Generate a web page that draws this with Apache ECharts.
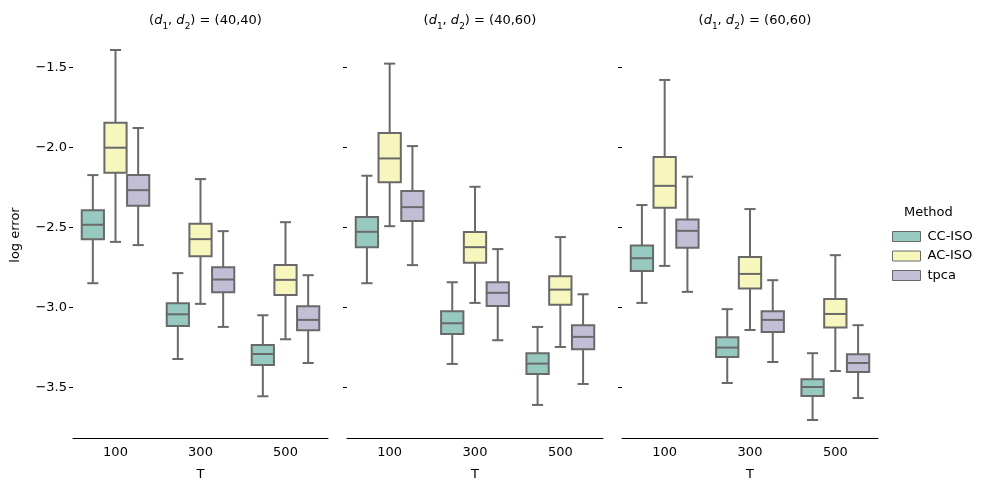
<!DOCTYPE html>
<html>
<head>
<meta charset="utf-8">
<script src="https://cdn.jsdelivr.net/npm/echarts@6.0.0/dist/echarts.min.js"></script>
<style>
  html, body { margin: 0; padding: 0; background: #fff; }
  #chart { width: 987px; height: 492px; }
</style>
</head>
<body>
<div id="chart"></div>
<script>
// Faceted boxplots: log error by T, one panel per (d1,d2), hue = method.
const categories = ['100', '300', '500']
const methods = ['CC-ISO', 'AC-ISO', 'tpca']
const panels = ['(40,40)', '(40,60)', '(60,60)']
const yTicks = [-3.5, -3.0, -2.5, -2.0, -1.5]

// each row: [low whisker, q1, median, q3, high whisker] for T = 100, 300, 500
const cc4040 = [[-2.848, -2.573, -2.483, -2.392, -2.173], [-3.321, -3.115, -3.042, -2.973, -2.785], [-3.554, -3.358, -3.290, -3.233, -3.048]]
const ac4040 = [[-2.590, -2.158, -2.002, -1.846, -1.392], [-2.977, -2.679, -2.573, -2.477, -2.198], [-3.198, -2.921, -2.827, -2.735, -2.467]]
const tp4040 = [[-2.610, -2.365, -2.267, -2.173, -1.879], [-3.121, -2.904, -2.825, -2.748, -2.523], [-3.346, -3.142, -3.077, -2.992, -2.798]]
const cc4060 = [[-2.848, -2.623, -2.527, -2.435, -2.177], [-3.352, -3.165, -3.098, -3.023, -2.842], [-3.608, -3.415, -3.350, -3.285, -3.121]]
const ac4060 = [[-2.492, -2.217, -2.069, -1.910, -1.477], [-2.971, -2.721, -2.623, -2.529, -2.246], [-3.246, -2.983, -2.888, -2.804, -2.560]]
const tp4060 = [[-2.735, -2.460, -2.373, -2.273, -1.992], [-3.204, -2.990, -2.908, -2.842, -2.635], [-3.477, -3.260, -3.183, -3.110, -2.917]]
const cc6060 = [[-2.971, -2.771, -2.692, -2.613, -2.360], [-3.471, -3.308, -3.250, -3.185, -3.010], [-3.702, -3.552, -3.496, -3.448, -3.285]]
const ac6060 = [[-2.740, -2.377, -2.240, -2.060, -1.579], [-3.140, -2.881, -2.790, -2.685, -2.385], [-3.396, -3.125, -3.040, -2.946, -2.673]]
const tp6060 = [[-2.902, -2.627, -2.521, -2.450, -2.183], [-3.340, -3.152, -3.077, -3.023, -2.829], [-3.565, -3.402, -3.346, -3.292, -3.110]]

const panelData = [[cc4040, ac4040, tp4040], [cc4060, ac4060, tp4060], [cc6060, ac6060, tp6060]]

const fills = ['#96cac1', '#f6f6bd', '#c1bed6']
const lineColor = '#696969'
const font = 'DejaVu Sans'
const minus = v => String(v.toFixed(1)).replace('-', '\u2212')

const grids = [
  { left: 73, width: 255 },
  { left: 347, width: 256 },
  { left: 622, width: 256 },
]

function renderBox(m) {
  return (params, api) => {
    const ci = api.value(0)
    const band = api.size([1, 0])[0]
    const step = band * 0.8 / 3
    const w = step * 0.98
    const cx = api.coord([ci, -3])[0] + (m - 1) * step
    const y = k => api.coord([ci, api.value(k)])[1]
    const [yLo, yQ1, yMed, yQ3, yHi] = [y(1), y(2), y(3), y(4), y(5)]
    const stroke = { stroke: lineColor, lineWidth: 2, fill: null }
    const line = (x1, y1, x2, y2) => ({ type: 'line', shape: { x1, y1, x2, y2 }, style: stroke })
    return {
      type: 'group',
      children: [
        line(cx, yQ1, cx, yLo),
        line(cx, yQ3, cx, yHi),
        line(cx - w / 4, yLo, cx + w / 4, yLo),
        line(cx - w / 4, yHi, cx + w / 4, yHi),
        { type: 'rect', shape: { x: cx - w / 2, y: yQ3, width: w, height: yQ1 - yQ3 },
          style: { fill: fills[m], stroke: lineColor, lineWidth: 2 } },
        line(cx - w / 2, yMed, cx + w / 2, yMed),
      ],
    }
  }
}

const txt = { fontFamily: font, color: '#000', fontWeight: 'normal', lineHeight: 20 }

const option = {
  animation: false,
  textStyle: { fontFamily: font },
  title: panels.map((p, i) => ({
    left: grids[i].left + grids[i].width / 2,
    top: 6,
    textAlign: 'center',
    text: `{p|(}{i|d}{s|1}{p|, }{i|d}{s|2}{p|) = ${p}}`,
    textStyle: {
      fontWeight: 'normal',
      rich: {
        p: { ...txt, fontSize: 13, verticalAlign: 'middle' },
        i: { ...txt, fontSize: 13, fontStyle: 'italic', verticalAlign: 'middle' },
        s: { ...txt, fontSize: 9, verticalAlign: 'bottom' },
      },
    },
  })),
  legend: {
    data: methods,
    orient: 'vertical',
    left: 887,
    top: 225,
    itemWidth: 28,
    itemHeight: 10,
    itemGap: 6.5,
    icon: 'rect',
    textStyle: { fontFamily: font, fontSize: 13, color: '#000', padding: [0, 0, 0, 2] },
    itemStyle: { borderColor: lineColor, borderWidth: 1 },
  },
  graphic: [{
    type: 'text', left: 904, top: 206,
    style: { text: 'Method', font: `13px "${font}"`, fill: '#000' },
  }],
  grid: grids.map(g => ({ left: g.left, width: g.width, top: 31.5, height: 407 })),
  xAxis: grids.map((g, i) => ({
    type: 'category',
    gridIndex: i,
    data: categories,
    name: 'T',
    nameLocation: 'middle',
    nameGap: 30,
    nameTextStyle: { fontFamily: font, fontSize: 13, color: '#000' },
    axisLine: { lineStyle: { color: '#000', width: 1 } },
    axisTick: { alignWithLabel: true, length: 4, lineStyle: { color: '#000' } },
    axisLabel: { fontFamily: font, fontSize: 13, color: '#000', margin: 8 },
    splitLine: { show: false },
  })),
  yAxis: grids.map((g, i) => ({
    type: 'value',
    gridIndex: i,
    min: -3.8175,
    max: -1.2765,
    name: i === 0 ? 'log error' : '',
    nameLocation: 'middle',
    nameGap: 51,
    nameRotate: 90,
    nameTextStyle: { fontFamily: font, fontSize: 13, color: '#000' },
    axisLine: { show: false },
    axisTick: { show: true, length: 4, customValues: yTicks, lineStyle: { color: '#000' } },
    axisLabel: {
      show: i === 0, customValues: yTicks, fontFamily: font, fontSize: 13, color: '#000', margin: 6,
      formatter: v => minus(v),
    },
    splitLine: { show: false },
  })),
  series: panelData.flatMap((group, p) => group.map((rows, m) => ({
    type: 'custom',
    name: methods[m],
    xAxisIndex: p,
    yAxisIndex: p,
    itemStyle: { color: fills[m], borderColor: lineColor, borderWidth: 1 },
    encode: { x: 0, y: [1, 2, 3, 4, 5] },
    data: rows.map((r, ci) => [ci, ...r]),
    renderItem: renderBox(m),
  }))),
}

const chart = echarts.init(document.getElementById('chart'), null, { renderer: 'canvas' })
chart.setOption(option)
</script>
</body>
</html>
